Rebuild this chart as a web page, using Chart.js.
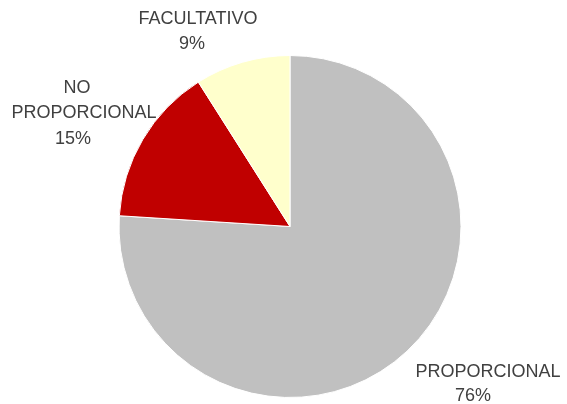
<!DOCTYPE html>
<html>
<head>
<meta charset="utf-8">
<script src="https://cdn.jsdelivr.net/npm/chart.js@4/dist/chart.umd.min.js"></script>
<style>
  html, body { margin: 0; padding: 0; background: #fff; }
  #wrap { width: 567px; height: 404px; }
</style>
</head>
<body>
<div id="wrap"><canvas id="pieChart" width="567" height="404"></canvas></div>
<script>
// Chart data
const categories = ['PROPORCIONAL', 'NO PROPORCIONAL', 'FACULTATIVO'];
const percentages = [76, 15, 9];
const labelLines = [['PROPORCIONAL'], ['NO', 'PROPORCIONAL'], ['FACULTATIVO']];
const sliceColors = ['#C0C0C0', '#C00000', '#FFFFCC'];

// Where each text line sits, in pixels from the pie centre for a 171px radius
const lineOffsets = [
    [[198, 146], [183, 170]],
    [[-213, -138], [-206, -113], [-217, -87]],
    [[-92, -207], [-98, -182]]
];

const outsideLabels = {
    id: 'outsideLabels',
    afterDatasetsDraw(chart) {
        const ctx = chart.ctx;
        const meta = chart.getDatasetMeta(0);
        ctx.save();
        ctx.font = '18px "Liberation Sans", Arial, sans-serif';
        ctx.fillStyle = '#404040';
        ctx.textAlign = 'center';
        ctx.textBaseline = 'middle';
        meta.data.forEach(function (arc, i) {
            const k = arc.outerRadius / 171;
            const lines = labelLines[i].concat([percentages[i] + '%']);
            lines.forEach(function (t, j) {
                const off = lineOffsets[i][j];
                ctx.fillText(t, arc.x + off[0] * k, arc.y + off[1] * k);
            });
        });
        ctx.restore();
    }
};

new Chart(document.getElementById('pieChart').getContext('2d'), {
    type: 'pie',
    data: {
        labels: categories,
        datasets: [{
            data: percentages,
            backgroundColor: sliceColors,
            borderColor: '#FFFFFF',
            borderWidth: 1
        }]
    },
    options: {
        responsive: false,
        animation: false,
        layout: { padding: { left: 13, right: 0, top: 55, bottom: 6 } },
        plugins: {
            legend: { display: false },
            tooltip: { enabled: false }
        }
    },
    plugins: [outsideLabels]
});
</script>
</body>
</html>
